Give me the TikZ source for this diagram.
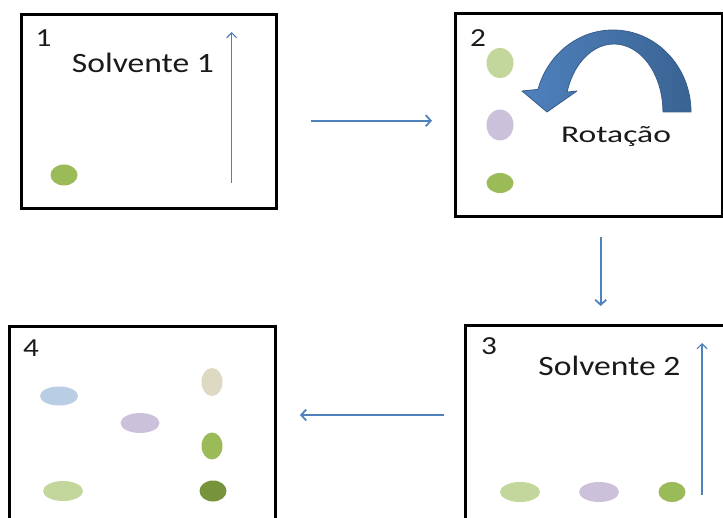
\documentclass[tikz,border=0pt]{standalone}
\usepackage{fontspec}
\setmainfont{Carlito}
\usetikzlibrary{arrows.meta}

\definecolor{flowblue}{HTML}{4F81BD}
\definecolor{rotlight}{HTML}{4F81BD}
\definecolor{rotdark}{HTML}{3A6393}
\definecolor{rotedge}{HTML}{385D8A}
\definecolor{spotlime}{HTML}{C3D69B}
\definecolor{spotlilac}{HTML}{CCC1DA}
\definecolor{spotgreen}{HTML}{9BBB59}
\definecolor{spotsky}{HTML}{B9CDE5}
\definecolor{spotsand}{HTML}{DDD9C3}
\definecolor{spotolive}{HTML}{77933C}
\definecolor{inktext}{HTML}{1A1A1A}

\begin{document}
\begin{tikzpicture}[x=1pt,y=-1pt,
  panel/.style={draw=black, line width=3pt, inner sep=0pt},
  flow/.style={draw=flowblue, line width=1.8pt, -{Straight Barb[length=5pt,width=11pt]}},
  rise/.style={draw=flowblue, line width=1.1pt, -{Straight Barb[length=5pt,width=10pt]}},
  spot/.style={fill=#1, draw=none},
  num/.style={font=\fontsize{26}{30}\selectfont, text=inktext, inner sep=0pt, anchor=base},
  lbl/.style={font=\fontsize{28}{32}\selectfont, text=inktext, inner sep=0pt}]

\useasboundingbox (0,0) rectangle (723,518);
\clip (0,0) rectangle (723,518);

% the four plates
\node[panel, minimum width=255pt, minimum height=194pt] (p1) at (149,111.5) {};
\node[panel, minimum width=267pt, minimum height=203pt] (p2) at (589,115) {};
\node[panel, minimum width=260.5pt, minimum height=214pt] (p3) at (595.75,433) {};
\node[panel, minimum width=266pt, minimum height=213.5pt] (p4) at (142.5,433.25) {};

% plate numbers
\node[num] (n1) at (43.5,47) {\scalebox{1.2}[1]{1}};
\node[num] (n2) at (478,47) {\scalebox{1.2}[1]{2}};
\node[num] (n3) at (489,355) {\scalebox{1.2}[1]{3}};
\node[num] (n4) at (31,357) {\scalebox{1.2}[1]{4}};

% plate 1: first elution
\node[lbl] (s1) at (143,63) {\scalebox{1.2}[1]{Solvente 1}};
\coordinate (r1a) at (231.7,183);
\coordinate (r1b) at (231.7,32);
\draw[rise] (r1a) -- (r1b);
\fill[spot=spotgreen] (64,175) ellipse [x radius=13.5, y radius=10.5];

% plate 2: rotated plate
\fill[spot=spotlime] (500,63) ellipse [x radius=13.5, y radius=15];
\fill[spot=spotlilac] (500,125) ellipse [x radius=13.5, y radius=15.5];
\fill[spot=spotgreen] (500,183) ellipse [x radius=13.5, y radius=10];
\path[left color=rotlight, right color=rotdark, draw=rotedge, line width=0.8pt, line join=round]
  (691,112) arc[start angle=0, end angle=-164, x radius=78, y radius=82]
  -- (522,91) -- (547,112) -- (577,91) -- (567.1,92.1)
  arc[start angle=-163, end angle=0, x radius=49, y radius=68] -- cycle;
\node[lbl, font=\fontsize{24}{28}\selectfont, anchor=base] (rot) at (616,142.5) {\scalebox{1.4}[1]{Rotação}};

% plate 3: second elution
\node[lbl] (s2) at (609.5,365.5) {\scalebox{1.2}[1]{Solvente 2}};
\coordinate (r3a) at (702,495);
\coordinate (r3b) at (702,343);
\draw[rise] (r3a) -- (r3b);
\fill[spot=spotlime] (520,492) ellipse [x radius=20, y radius=10];
\fill[spot=spotlilac] (599,492) ellipse [x radius=20, y radius=10];
\fill[spot=spotgreen] (672,492) ellipse [x radius=13.5, y radius=10];

% plate 4: separated spots
\fill[spot=spotsky] (59,396) ellipse [x radius=19, y radius=9.5];
\fill[spot=spotlilac] (140,423) ellipse [x radius=19.5, y radius=10];
\fill[spot=spotlime] (63,491) ellipse [x radius=20, y radius=10];
\fill[spot=spotsand] (212,382) ellipse [x radius=10.5, y radius=14];
\fill[spot=spotgreen] (212,446) ellipse [x radius=10.5, y radius=13.5];
\fill[spot=spotolive] (213,491) ellipse [x radius=13.5, y radius=10.5];

% steps between plates
\coordinate (a12) at (311,120.7);
\coordinate (b12) at (432,120.7);
\coordinate (a23) at (600.7,237);
\coordinate (b23) at (600.7,306);
\coordinate (a34) at (444,415);
\coordinate (b34) at (300,415);
\draw[flow] (a12) -- (b12);
\draw[flow] (a23) -- (b23);
\draw[flow] (a34) -- (b34);
\end{tikzpicture}
\end{document}
